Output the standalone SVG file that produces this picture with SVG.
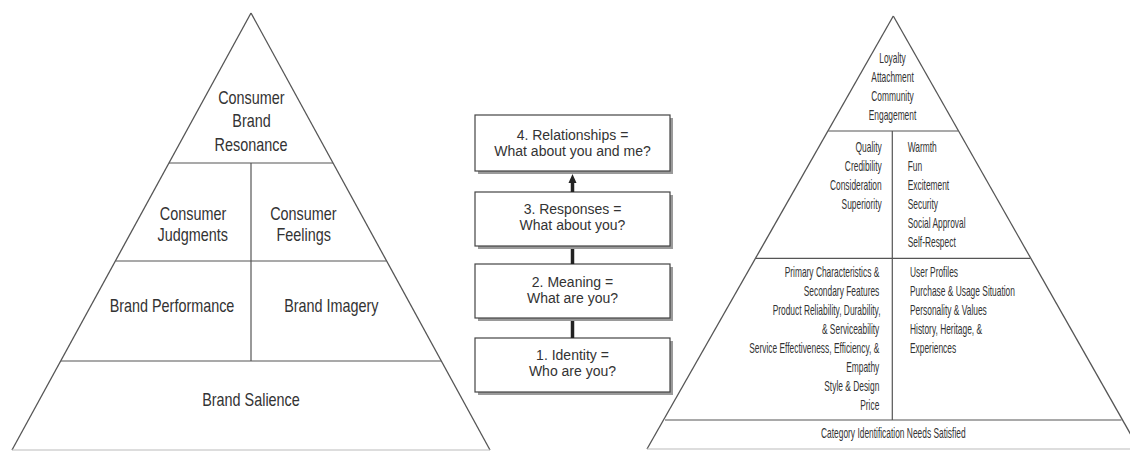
<svg xmlns="http://www.w3.org/2000/svg" width="1130" height="451" viewBox="0 0 1130 451">
<style>
.edge{stroke:#555;stroke-width:1.3;fill:none}
.base{stroke:#bbb;stroke-width:1.2;fill:none}
.div{stroke:#555;stroke-width:1.2;fill:none}
.tl{font-family:"Liberation Sans",Arial,sans-serif;font-size:18px;fill:#333;text-anchor:middle}
.tr{font-family:"Liberation Sans",Arial,sans-serif;font-size:14px;fill:#333}
.m{text-anchor:middle}.e{text-anchor:end}.s{text-anchor:start}
.bx{fill:#fff;stroke:#444;stroke-width:1.2}
.sh{fill:#9a9a9a}
.tb{font-family:"Liberation Sans",Arial,sans-serif;font-size:14px;fill:#333;text-anchor:middle}
.con{stroke:#222;stroke-width:3.5;fill:none}
</style>
<rect width="1130" height="451" fill="#fff"/>

<g id="left-pyramid">
<line class="edge" x1="251" y1="13" x2="12" y2="450"/>
<line class="edge" x1="251" y1="13" x2="490" y2="450"/>
<line class="base" x1="12" y1="450" x2="490" y2="450"/>
<line class="div" x1="169" y1="163" x2="333" y2="163"/>
<line class="div" x1="116" y1="261" x2="386" y2="261"/>
<line class="div" x1="61" y1="361" x2="441" y2="361"/>
<line class="div" x1="251" y1="163" x2="251" y2="361"/>
</g>
<g id="node-resonance">
<text class="tl" transform="translate(251.3,104) scale(0.8,1)">Consumer</text>
<text class="tl" transform="translate(251.5,126.5) scale(0.8,1)">Brand</text>
<text class="tl" transform="translate(251,150.5) scale(0.8,1)">Resonance</text>
</g>
<g id="node-judgments">
<text class="tl" transform="translate(193,220) scale(0.8,1)">Consumer</text>
<text class="tl" transform="translate(192.8,241) scale(0.8,1)">Judgments</text>
</g>
<g id="node-feelings">
<text class="tl" transform="translate(303.3,220) scale(0.8,1)">Consumer</text>
<text class="tl" transform="translate(303.7,241) scale(0.8,1)">Feelings</text>
</g>
<g id="node-performance">
<text class="tl" transform="translate(172,312) scale(0.8,1)">Brand Performance</text>
</g>
<g id="node-imagery">
<text class="tl" transform="translate(331.3,312) scale(0.8,1)">Brand Imagery</text>
</g>
<g id="node-salience">
<text class="tl" transform="translate(251,406) scale(0.8,1)">Brand Salience</text>
</g>

<g id="box-4">
<rect class="sh" x="478" y="118" width="195" height="56"/>
<rect class="bx" x="475" y="115" width="195" height="56"/>
<text class="tb" x="572.5" y="140">4. Relationships =</text>
<text class="tb" x="572.5" y="156">What about you and me?</text>
</g>
<g id="box-3">
<rect class="sh" x="478" y="195" width="195" height="54"/>
<rect class="bx" x="475" y="192" width="195" height="54"/>
<text class="tb" x="572.5" y="214">3. Responses =</text>
<text class="tb" x="572.5" y="230">What about you?</text>
</g>
<g id="box-2">
<rect class="sh" x="478" y="267" width="195" height="54"/>
<rect class="bx" x="475" y="264" width="195" height="54"/>
<text class="tb" x="572.5" y="287">2. Meaning =</text>
<text class="tb" x="572.5" y="303">What are you?</text>
</g>
<g id="box-1">
<rect class="sh" x="478" y="341" width="195" height="54"/>
<rect class="bx" x="475" y="338" width="195" height="54"/>
<text class="tb" x="572.5" y="360">1. Identity =</text>
<text class="tb" x="572.5" y="376">Who are you?</text>
</g>
<g id="connectors">
<line class="con" x1="572.5" y1="192" x2="572.5" y2="181"/>
<polygon points="572.5,174 568.5,183 576.5,183" fill="#222"/>
<line class="con" x1="572.5" y1="249" x2="572.5" y2="264"/>
<line class="con" x1="572.5" y1="321" x2="572.5" y2="338"/>
</g>

<g id="right-pyramid">
<line class="edge" x1="893.3" y1="16" x2="647" y2="449"/>
<line class="edge" x1="893.3" y1="16" x2="1139" y2="449"/>
<line class="base" x1="647" y1="449" x2="1130" y2="449"/>
<line class="div" x1="828.3" y1="131" x2="958" y2="131"/>
<line class="div" x1="756" y1="258.3" x2="1030" y2="258.3"/>
<line class="div" x1="665" y1="420" x2="1121.5" y2="420"/>
<line class="div" x1="892.3" y1="131" x2="892.3" y2="420"/>
</g>
<g id="node-top" transform="translate(892.5,0) scale(0.6,1)">
<text class="tr m" x="0" y="63.5">Loyalty</text>
<text class="tr m" x="0" y="82">Attachment</text>
<text class="tr m" x="0" y="101">Community</text>
<text class="tr m" x="0" y="120">Engagement</text>
</g>
<g id="node-judgment-items" transform="translate(881.7,0) scale(0.6,1)">
<text class="tr e" x="0" y="152.5">Quality</text>
<text class="tr e" x="0" y="171.5">Credibility</text>
<text class="tr e" x="0" y="190.5">Consideration</text>
<text class="tr e" x="0" y="209.5">Superiority</text>
</g>
<g id="node-feeling-items" transform="translate(907.7,0) scale(0.6,1)">
<text class="tr s" x="0" y="152.5">Warmth</text>
<text class="tr s" x="0" y="171.5">Fun</text>
<text class="tr s" x="0" y="190.5">Excitement</text>
<text class="tr s" x="0" y="209.5">Security</text>
<text class="tr s" x="0" y="228.5">Social Approval</text>
<text class="tr s" x="0" y="247.5">Self-Respect</text>
</g>
<g id="node-performance-items" transform="translate(879.3,0) scale(0.6,1)">
<text class="tr e" x="0" y="276.7">Primary Characteristics &amp;</text>
<text class="tr e" x="0" y="295.7">Secondary Features</text>
<text class="tr e" x="2" y="314.7">Product Reliability, Durability,</text>
<text class="tr e" x="0" y="333.7">&amp; Serviceability</text>
<text class="tr e" x="0" y="352.7">Service Effectiveness, Efficiency, &amp;</text>
<text class="tr e" x="0" y="371.7">Empathy</text>
<text class="tr e" x="0" y="390.7">Style &amp; Design</text>
<text class="tr e" x="0" y="409.7">Price</text>
</g>
<g id="node-imagery-items" transform="translate(910,0) scale(0.6,1)">
<text class="tr s" x="0" y="276.7">User Profiles</text>
<text class="tr s" x="0" y="295.7">Purchase &amp; Usage Situation</text>
<text class="tr s" x="0" y="314.7">Personality &amp; Values</text>
<text class="tr s" x="0" y="333.7">History, Heritage, &amp;</text>
<text class="tr s" x="0" y="352.7">Experiences</text>
</g>
<g id="node-category" transform="translate(893.3,0) scale(0.6,1)">
<text class="tr m" x="0" y="438">Category Identification Needs Satisfied</text>
</g>
</svg>
